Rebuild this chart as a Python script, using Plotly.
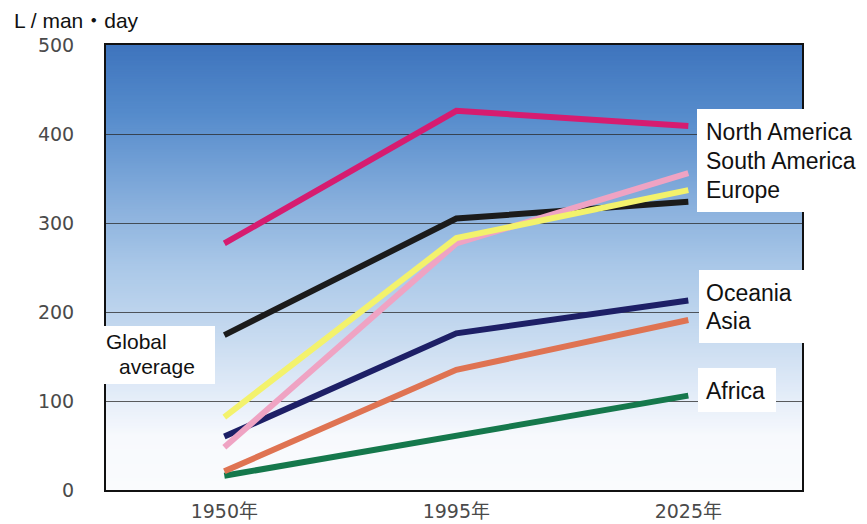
import plotly.graph_objects as go

# Per-capita daily water use (L / man・day) by region
years = ["1950年", "1995年", "2025年"]
north_america = [277, 426, 409]
south_america = [48, 277, 356]
europe = [82, 283, 337]
global_average = [174, 305, 324]
oceania = [60, 176, 213]
asia = [21, 135, 191]
africa = [16, 61, 106]

y_ticks = [0, 100, 200, 300, 400, 500]

W, H = 867, 524
ML, MR, MT, MB = 106, 65, 45, 34
PW, PH = W - ML - MR, H - MT - MB


def px(x):
    return (x - ML) / PW


def py(y):
    return (H - MB - y) / PH


series = [
    ("Africa", africa, "#15784c"),
    ("Asia", asia, "#df7352"),
    ("Oceania", oceania, "#1d1f66"),
    ("Global average", global_average, "#1b1b1b"),
    ("South America", south_america, "#efa3c3"),
    ("Europe", europe, "#f3f26c"),
    ("North America", north_america, "#d61c70"),
]

fig = go.Figure()
for name, vals, color in series:
    fig.add_trace(go.Scatter(
        x=years, y=vals, mode="lines", name=name,
        line=dict(color=color, width=6),
        showlegend=False, hoverinfo="skip",
    ))

# Vertical blue-to-white gradient behind the plot area
stops = [
    (0, (250, 251, 253)), (60, (247, 249, 253)), (100, (230, 238, 249)),
    (170, (200, 219, 240)), (250, (170, 200, 232)), (330, (132, 172, 219)),
    (420, (86, 140, 204)), (500, (62, 116, 189)),
]


def grad(v):
    for (a, ca), (b, cb) in zip(stops, stops[1:]):
        if a <= v <= b:
            t = (v - a) / (b - a)
            return tuple(round(ca[i] + (cb[i] - ca[i]) * t) for i in range(3))
    return stops[-1][1]


shapes = []
step = 2
for lo in range(0, 500, step):
    r, g, b = grad(lo + step / 2)
    shapes.append(dict(
        type="rect", xref="x domain", yref="y", x0=0, x1=1,
        y0=lo, y1=min(lo + step + 1.5, 500),
        fillcolor=f"rgb({r},{g},{b})", line=dict(width=0), layer="below",
    ))

# White label boxes
for x0, x1, y0, y1 in [(697, 867, 109, 212), (699, 805, 270, 343),
                       (698, 776, 368, 412), (98, 215, 326, 384)]:
    shapes.append(dict(
        type="rect", xref="paper", yref="paper",
        x0=px(x0), x1=px(x1), y0=py(y1), y1=py(y0),
        fillcolor="white", line=dict(width=0), layer="above",
    ))

label_font = dict(family="Liberation Sans, Arial, sans-serif", size=23, color="#111")
annotations = []
for text, x, y in [("North America", 704, 132), ("South America", 704, 161),
                   ("Europe", 704, 190), ("Oceania", 704, 293), ("Asia", 704, 321),
                   ("Africa", 704, 391)]:
    annotations.append(dict(
        text=text, xref="paper", yref="paper", x=px(x), y=py(y),
        xanchor="left", yanchor="middle", showarrow=False, font=label_font,
    ))

# Two tightly stacked lines for the global-average label
avg_font = dict(family="Liberation Sans, Arial, sans-serif", size=21, color="#111")
for text, x, y in [("Global", 104, 341), ("average", 117, 366)]:
    annotations.append(dict(
        text=text, xref="paper", yref="paper", x=px(x), y=py(y),
        xanchor="left", yanchor="middle", showarrow=False, font=avg_font,
    ))

annotations.append(dict(
    text="L / man・day", xref="paper", yref="paper", x=px(12), y=py(20),
    xanchor="left", yanchor="middle", showarrow=False,
    font=dict(family="Liberation Sans, Arial, Noto Sans CJK JP, sans-serif", size=21, color="#111"),
))

tick_font = dict(family="DejaVu Sans, sans-serif", size=19, color="#4a4a4a")

fig.update_layout(
    width=W, height=H,
    margin=dict(l=ML, r=MR, t=MT, b=MB, pad=0, autoexpand=False),
    paper_bgcolor="white", plot_bgcolor="white",
    shapes=shapes, annotations=annotations,
    xaxis=dict(
        type="category", range=[-0.51, 2.49], showgrid=False, automargin=False,
        showline=True, linecolor="#111", linewidth=2, mirror=True,
        ticks="", tickfont=dict(family="DejaVu Sans, Noto Sans CJK JP, sans-serif", size=19, color="#4a4a4a"),
        ticklabelstandoff=3, zeroline=False,
    ),
    yaxis=dict(
        range=[0, 500], tickvals=y_ticks, showgrid=True, automargin=False,
        gridcolor="rgba(40,40,40,0.75)", gridwidth=1,
        showline=True, linecolor="#111", linewidth=2, mirror=True,
        ticks="", tickfont=tick_font, ticklabelstandoff=26, zeroline=False,
    ),
)

fig.write_html("out.html")
